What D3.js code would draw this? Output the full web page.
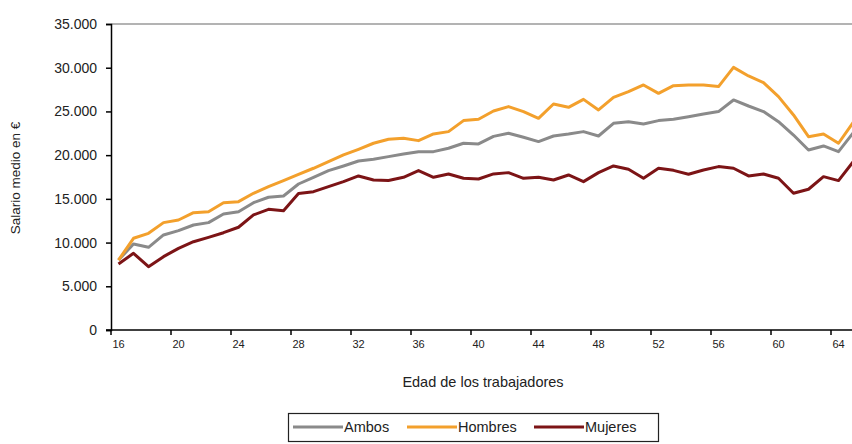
<!DOCTYPE html>
<head>
  <meta charset="utf-8">
  <script src="https://d3js.org/d3.v7.min.js"></script>
</head>
<body>
  <div id="chart"></div>

  <script>
    var width = 852;
    var height = 444;

    // ages on the x axis (16..65)
    var ages = d3.range(16, 66);
    var tickAges = [16, 20, 24, 28, 32, 36, 40, 44, 48, 52, 56, 60, 64];
    var yTicks = [0, 5000, 10000, 15000, 20000, 25000, 30000, 35000];

    // salario medio por edad
    var ambos = [8000, 9840, 9460, 10870, 11360, 12010, 12280, 13270, 13530, 14560,
      15180, 15330, 16700, 17470, 18230, 18760, 19330, 19530, 19830, 20130,
      20400, 20400, 20790, 21360, 21280, 22150, 22500, 22040, 21550, 22190,
      22420, 22690, 22190, 23640, 23830, 23570, 23950, 24100, 24400, 24710,
      24980, 26310, 25620, 24980, 23830, 22300, 20590, 21050, 20400, 22600];
    var hombres = [8000, 10490, 11060, 12280, 12580, 13420, 13530, 14560, 14680, 15640,
      16400, 17090, 17800, 18500, 19250, 20020, 20670, 21360, 21820, 21930,
      21660, 22420, 22690, 23950, 24100, 25050, 25550, 24980, 24210, 25850,
      25470, 26380, 25170, 26610, 27260, 28030, 27070, 27950, 28030, 28030,
      27840, 30040, 29060, 28290, 26690, 24600, 22110, 22420, 21360, 23800];
    var mujeres = [7550, 8770, 7240, 8390, 9340, 10100, 10600, 11130, 11750, 13160,
      13800, 13650, 15600, 15820, 16400, 16970, 17620, 17160, 17090, 17470,
      18230, 17470, 17850, 17350, 17270, 17850, 18000, 17350, 17470, 17160,
      17730, 16970, 18000, 18760, 18380, 17350, 18500, 18260, 17820, 18300,
      18690, 18500, 17620, 17850, 17350, 15640, 16100, 17540, 17090, 19300];

    var series = [
      {name: 'Ambos', values: ambos, color: '#8a8a8a'},
      {name: 'Hombres', values: hombres, color: '#f3a02c'},
      {name: 'Mujeres', values: mujeres, color: '#7c1416'}
    ];

    // plot area edges (the last category runs past the right edge, as in the picture)
    var plotLeft = 111, plotRight = 861, plotTop = 24, plotBottom = 330;

    var x = d3.scaleBand().domain(ages).range([plotLeft, plotRight]);
    var y = d3.scaleLinear().domain([0, 35000]).range([plotBottom, plotTop]);

    var es = d3.formatLocale({decimal: ',', thousands: '.', grouping: [3], currency: ['', '€']});
    var fmt = es.format(',d');

    var svg = d3.select('#chart')
      .append('svg')
        .attr('width', width)
        .attr('height', height)
        .style('display', 'block');

    svg.append('rect').attr('width', width).attr('height', height).attr('fill', '#fff');

    // top border of the plot area
    svg.append('line')
      .attr('x1', plotLeft).attr('x2', width)
      .attr('y1', plotTop).attr('y2', plotTop)
      .attr('stroke', '#9a9a9a').attr('stroke-width', 1.5);

    // y axis
    var yAxis = svg.append('g')
      .attr('transform', 'translate(' + plotLeft + ',0)')
      .call(d3.axisLeft(y).tickValues(yTicks).tickFormat(fmt).tickSize(5).tickPadding(9));
    yAxis.select('.domain').attr('stroke', '#000').attr('stroke-width', 1.5);
    yAxis.selectAll('.tick line').attr('stroke', '#000').attr('stroke-width', 1.5);
    yAxis.selectAll('text')
      .attr('font-family', 'Liberation Sans, Arial, sans-serif')
      .attr('font-size', 14).attr('fill', '#222');

    // x axis: labels at category centres, ticks between categories
    var xAxis = svg.append('g')
      .attr('transform', 'translate(0,' + plotBottom + ')')
      .call(d3.axisBottom(x).tickValues(tickAges).tickSize(0).tickPadding(10));
    xAxis.select('.domain').remove();
    xAxis.append('line')
      .attr('x1', plotLeft - 5).attr('x2', width)
      .attr('stroke', '#000').attr('stroke-width', 1.5);
    xAxis.selectAll('.xtick')
      .data(tickAges)
      .join('line')
        .attr('class', 'xtick')
        .attr('x1', d => x(d)).attr('x2', d => x(d))
        .attr('y1', 0).attr('y2', 5)
        .attr('stroke', '#000').attr('stroke-width', 1.5);
    xAxis.selectAll('text')
      .attr('font-family', 'Liberation Sans, Arial, sans-serif')
      .attr('font-size', 11).attr('fill', '#222');

    // lines
    var line = d3.line()
      .x((d, i) => x(ages[i]) + x.bandwidth() / 2)
      .y(d => y(d));

    svg.append('g')
      .selectAll('path')
      .data(series)
      .join('path')
        .attr('fill', 'none')
        .attr('stroke', d => d.color)
        .attr('stroke-width', 3)
        .attr('stroke-linejoin', 'round')
        .attr('d', d => line(d.values));

    // axis titles
    svg.append('text')
      .attr('x', 483).attr('y', 387)
      .attr('text-anchor', 'middle')
      .attr('font-family', 'Liberation Sans, Arial, sans-serif')
      .attr('font-size', 14.5).attr('fill', '#222')
      .text('Edad de los trabajadores');

    svg.append('text')
      .attr('transform', 'translate(20,178) rotate(-90)')
      .attr('text-anchor', 'middle')
      .attr('font-family', 'Liberation Sans, Arial, sans-serif')
      .attr('font-size', 13.5).attr('fill', '#222')
      .text('Salario medio en €');

    // legend
    var legend = svg.append('g');
    legend.append('rect')
      .attr('x', 288.5).attr('y', 413.5).attr('width', 370).attr('height', 28)
      .attr('fill', '#fff').attr('stroke', '#222').attr('stroke-width', 1.2);

    var legendX = [293, 407, 534];
    var item = legend.selectAll('.item')
      .data(series)
      .join('g')
        .attr('class', 'item')
        .attr('transform', (d, i) => 'translate(' + legendX[i] + ',427)');
    item.append('line')
      .attr('x1', 0).attr('x2', 50)
      .attr('stroke', d => d.color).attr('stroke-width', 3);
    item.append('text')
      .attr('x', 51).attr('y', 5)
      .attr('font-family', 'Liberation Sans, Arial, sans-serif')
      .attr('font-size', 14.5).attr('fill', '#222')
      .text(d => d.name);
  </script>
</body>

<style>
  body { margin: 0; background: #fff; }
</style>
